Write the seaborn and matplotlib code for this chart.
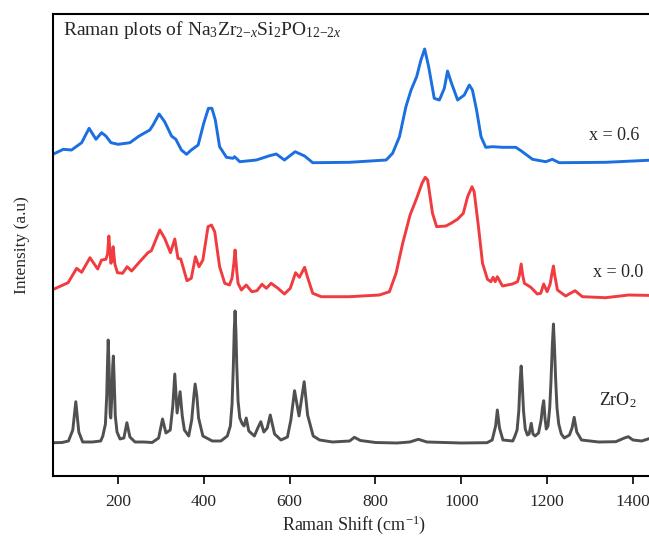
import numpy as np
import pandas as pd
import seaborn as sns
from matplotlib import pyplot as plt

# Raman spectra (stacked intensities, arbitrary units)
zro2_shift = [50, 70, 85, 95, 102, 109, 118, 140, 160, 165, 171, 174, 176, 177.5, 179.5, 182, 183.5, 186, 188,
              189.5, 191.5, 194, 198, 205, 214, 221, 228, 240, 260, 280, 295, 304, 312, 322, 328, 332.6, 338,
              345, 350, 355, 365, 372, 377, 380, 384, 388, 398, 420, 440, 455, 462, 466, 469, 471, 473, 475,
              477, 480, 484, 490, 494, 499, 505, 518, 526, 533, 540, 548, 555, 565, 580, 595, 603, 611.6, 622,
              634, 642, 655, 670, 700, 740, 751, 765, 800, 850, 880, 900, 920, 1000, 1060, 1072, 1080, 1084,
              1089, 1097, 1120, 1125, 1130, 1134, 1137, 1139.5, 1142, 1145, 1149, 1154, 1158, 1163, 1167, 1172,
              1180, 1186, 1189, 1192, 1195, 1198, 1202, 1206, 1209, 1212, 1214.7, 1217, 1220, 1223, 1227, 1233,
              1240, 1252, 1258, 1263, 1269, 1280, 1320, 1360, 1380, 1389, 1400, 1420, 1450]
zro2_int = [33.3, 33.5, 35, 46, 74.3, 44, 34, 34, 35, 40, 52, 80, 115, 136, 110, 62, 58, 80, 110,
            120, 95, 60, 44, 37, 38, 53.3, 39, 34, 34, 33.5, 38, 57, 43, 46, 70, 102, 63,
            84.3, 60, 46, 40, 56, 80, 92, 80, 58, 40, 35, 35, 40, 50, 72, 110, 145, 165, 145,
            110, 75, 58, 52, 50, 58, 45, 40, 48, 54.3, 44, 48, 61, 42, 36, 39, 56, 85.3, 60,
            94.3, 61, 40, 36, 34, 35, 38.7, 35.5, 33.5, 33, 34, 36.7, 34, 33, 33.3, 36, 50, 66,
            48, 36, 35, 40, 46, 65, 95, 110, 92, 65, 47, 41, 42, 52.7, 42, 40,
            43, 56, 68, 75.3, 58, 47, 50, 68, 95, 130, 152, 130, 95, 68, 52, 42,
            38, 41, 48, 58.7, 44, 36, 34, 34.3, 38, 39.3, 36, 35, 39]

nzsp0_shift = [50, 84, 104, 115.6, 135, 153, 162, 172, 176, 179, 183.7, 186, 189, 193, 199, 211, 221.6, 232,
               251, 270, 278, 297.7, 309, 322.6, 332.6, 340, 346.5, 361, 371, 380.7, 389, 398, 410, 418,
               425.6, 437, 449, 460, 466, 470, 473, 477, 480, 487.7, 499, 512, 524, 535.6, 546, 557, 573,
               588, 601.6, 614, 623, 635, 642.6, 654, 673.7, 716, 739.5, 809, 832.6, 848, 863.5, 880.7,
               896, 908.6, 916, 921.7, 933, 942.6, 964, 976, 991, 1004.7, 1014.7, 1025, 1030, 1040,
               1049.5, 1061, 1069, 1074, 1079, 1084, 1096, 1119, 1131, 1135, 1139.5, 1143, 1147, 1162,
               1177, 1185, 1192, 1200, 1207, 1211, 1214.7, 1218, 1224, 1243, 1265, 1282, 1336, 1390, 1450]
nzsp0_int = [186.7, 193.3, 207.7, 203.7, 218.3, 207, 216, 216.7, 222, 240, 212.7, 215, 229.3, 212, 203.3, 202.7, 209.3, 205,
             214.3, 223.3, 225.3, 246, 237.7, 223.3, 237, 217.7, 217, 195.3, 197.7, 219.3, 209.3, 216, 249.3, 251,
             244.3, 209.3, 192.7, 191, 198, 212, 226, 205, 192.7, 186, 191, 184.3, 185.3, 191.7, 187.7, 192.7, 187.7,
             182, 187.7, 203.3, 198.7, 208.7, 197.7, 182.7, 179.3, 179.3, 179.3, 181, 184.3, 202.7, 232.7, 261,
             277.7, 292.7, 298.7, 296, 262.7, 249.3, 250, 252.7, 256.7, 262.7, 279.3, 289.3, 284.3, 249.3,
             212.7, 196.7, 194.3, 198.7, 194.3, 199.3, 190, 192, 194.3, 200, 212, 201, 192.7, 188.7,
             182, 182.7, 192, 184.3, 192, 202, 210, 200, 186, 180, 185.3, 179.3, 178.3, 181, 180.5]

nzsp6_shift = [50, 73, 92, 115.6, 133, 149, 162, 172, 184, 200.7, 228, 249.6, 274.4, 282, 296, 309, 325, 335,
               348, 360, 371, 387, 400, 411, 419, 427, 437, 453, 468, 472, 484, 522.6, 553.5, 569, 588, 613,
               635, 654, 739.5, 825, 840, 856, 871, 883, 896, 906, 914.7, 924, 937, 949, 960.5, 968, 976,
               991.5, 1007, 1018.6, 1026, 1035.6, 1046, 1057, 1073, 1096, 1127, 1139, 1166, 1197, 1212, 1228,
               1336, 1450]
nzsp6_int = [322, 326.7, 326, 333.3, 347.7, 336.7, 343.3, 340, 333.3, 331.7, 333.3, 340, 346, 351, 362, 354.3, 340, 336.7,
             326, 321.7, 326, 331, 352.7, 367.7, 367.7, 356, 329.3, 318.7, 317.7, 319.3, 314.3, 316, 320.3, 322, 316, 324.3,
             320, 313.3, 313.7, 316, 322.7, 339.3, 369.3, 386, 399.3, 416, 427, 409.3, 377.7, 376, 387.7, 405, 394.3,
             376, 381, 391, 386, 366, 339.3, 328.7, 329.3, 328.7, 328.7, 325.3, 316.7, 314.3, 316.7, 313.3,
             313.7, 316]

xticks = [200, 400, 600, 800, 1000, 1200, 1400]

sns.set_style('ticks')
plt.rcParams['font.family'] = ['Liberation Serif', 'DejaVu Serif']
plt.rcParams['mathtext.fontset'] = 'custom'
plt.rcParams['mathtext.rm'] = 'Liberation Serif'
plt.rcParams['mathtext.it'] = 'Liberation Serif:italic'

fig = plt.figure(figsize=(6.49, 5.37), dpi=100)
ax = fig.add_axes([0.0824, 0.1136, 0.926, 0.8603])

series = [
    (zro2_shift, zro2_int, '#505050'),
    (nzsp0_shift, nzsp0_int, '#f03c40'),
    (nzsp6_shift, nzsp6_int, '#1b6fe0'),
]
for shift, inten, color in series:
    df = pd.DataFrame({'shift': shift, 'intensity': inten})
    sns.lineplot(data=df, x='shift', y='intensity', ax=ax, color=color, lw=2.1, estimator=None, sort=False)

ax.set_xlim(50, 1450)
ax.set_ylim(0, 462)
ax.set_xticks(xticks)
ax.set_yticks([])
ax.tick_params(axis='x', direction='out', length=5.8, width=1.4, labelsize=12.5, pad=7)
for s in ax.spines.values():
    s.set_linewidth(1.5)
    s.set_color('black')

ax.set_xlabel('Raman Shift (cm$^{\\mathregular{-1}}$)', fontsize=13, labelpad=3)
ax.set_ylabel('Intensity (a.u)', fontsize=12.5, labelpad=17)

ax.text(0.016, 0.9545, 'Raman plots of Na$_3$Zr$_{2\\mathregular{-}x}$Si$_2$PO$_{12\\mathregular{-}2x}$',
        transform=ax.transAxes, fontsize=14, va='baseline', ha='left')
ax.text(1414, 336, 'x = 0.6', fontsize=13, ha='right', va='baseline')
ax.text(1425, 199, 'x = 0.0', fontsize=13, ha='right', va='baseline')
ax.text(1321, 71, 'ZrO$_2$', fontsize=13, ha='left', va='baseline')

plt.savefig('out.png', dpi=100)
